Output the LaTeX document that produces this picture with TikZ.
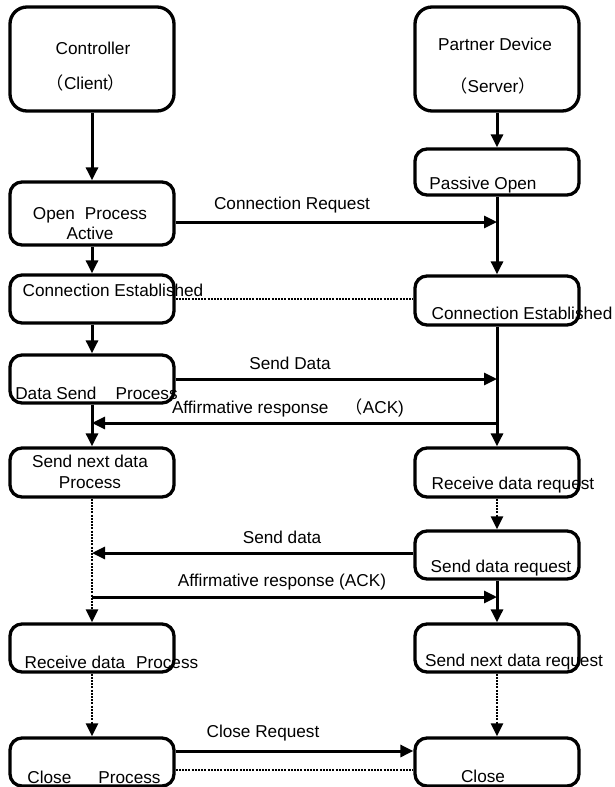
\documentclass[tikz,border=0pt]{standalone}
\usepackage{fontspec}
\setmainfont{Liberation Sans}
\newfontfamily\cjk{Noto Sans CJK JP}
\usepackage{tikz}
\usetikzlibrary{arrows.meta,calc}

\tikzset{
    stage/.style={draw, line width=3.3pt, rounded corners=12pt, inner sep=0pt, minimum width=164pt, minimum height=48pt},
    tag/.style={inner sep=0pt, font=\fontsize{17.2}{19}\selectfont},
    flow/.style={line width=3pt, -{Triangle[length=13pt,width=12pt]}},
    dots/.style={line width=2.8pt, dash pattern=on 2pt off 1.2pt},
}

\begin{document}
\begin{tikzpicture}[x=1pt,y=-1pt]
                \useasboundingbox (0,0) rectangle (614,787);
                \node[stage, rounded corners=17pt, minimum height=104pt] (ctrl) at (92,59) {};
                \node[stage, rounded corners=17pt, minimum height=104pt] (partner) at (497,59) {};
                \node[stage, minimum height=63pt] (open) at (92,213.5) {};
                \node[stage, minimum height=46pt] (passive) at (497,172) {};
                \node[stage] (ceL) at (92,299) {};
                \node[stage, minimum height=49pt] (ceR) at (497,300.5) {};
                \node[stage] (dsend) at (92,379) {};
                \node[stage, minimum height=49pt] (nextL) at (92,472.5) {};
                \node[stage, minimum height=49pt] (recvR) at (497,472.5) {};
                \node[stage] (sendreq) at (497,555) {};
                \node[stage] (recvL) at (92,648) {};
                \node[stage] (nextR) at (497,648) {};
                \node[stage] (closeL) at (92,762) {};
                \node[stage] (closeR) at (497,762) {};
                \node[tag] (ctrlA) at (93,48) {Controller};
                \node[tag] (ctrlB) at (86,83) {{\cjk （}Client{\cjk ）}};
                \node[tag] (partA) at (495,44) {Partner Device};
                \node[tag] (partB) at (493,86) {{\cjk （}Server{\cjk ）}};
                \node[tag] (openA) at (90,215) {Open\hspace{10pt}Process};
                \node[tag] (openB) at (90,233) {Active};
                \node[tag] (passT) at (483,185) {Passive Open};
                \node[tag] (ceLT) at (113,290) {Connection Established};
                \node[tag] (ceRT) at (522,313) {Connection Established};
                \node[tag] (dsendT) at (96.5,393) {Data Send\hspace{19pt}Process};
                \node[tag] (nextLA) at (90,461) {Send next data};
                \node[tag] (nextLB) at (90,483) {Process};
                \node[tag] (recvRT) at (513,485) {Receive data request};
                \node[tag] (sendreqT) at (501,568) {Send data request};
                \node[tag] (recvLT) at (111.5,662) {Receive data\hspace{11pt}Process};
                \node[tag] (nextRT) at (514,662) {Send next data request};
                \node[tag] (closeLT) at (94,777) {Close\hspace{27pt}Process};
                \node[tag] (closeRT) at (483,776) {Close};
                \node[tag] (reqL) at (292,205) {Connection Request};
                \node[tag] (sendL) at (290,363) {Send Data};
                \node[tag] (ackL) at (288,408) {Affirmative response{\cjk 　（}ACK)};
                \node[tag] (sendL2) at (282,537) {Send data};
                \node[tag] (ackL2) at (282,582) {Affirmative response (ACK)};
                \node[tag] (closeRq) at (263,733) {Close Request};
                \coordinate (reqEnd) at (497,222);
                \coordinate (dataEnd) at (497,379);
                \coordinate (ackR) at (497,423);
                \coordinate (ackLeft) at (92,423);
                \coordinate (backEnd) at (92,553);
                \coordinate (ack2L) at (92,597);
                \coordinate (ack2R) at (497,597);
                \coordinate (clsA) at (0,751);
                \coordinate (clsB) at (0,770);
                \draw[flow] (ctrl.south) -- (open.north);
                \draw[flow] (open.south) -- (ceL.north);
                \draw[flow] (ceL.south) -- (dsend.north);
                \draw[flow] (dsend.south) -- (nextL.north);
                \draw[flow, dots] (nextL.south) -- (recvL.north);
                \draw[flow, dots] (recvL.south) -- (closeL.north);
                \draw[flow] (partner.south) -- (passive.north);
                \draw[flow] (passive.south) -- (ceR.north);
                \draw[flow] (ceR.south) -- (recvR.north);
                \draw[flow, dots] (recvR.south) -- (sendreq.north);
                \draw[flow] (sendreq.south) -- (nextR.north);
                \draw[flow, dots] (nextR.south) -- (closeR.north);
                \draw[flow] (open.east |- reqEnd) -- (reqEnd);
                \draw[dots] (ceL.east) -- (ceL.east -| ceR.west);
                \draw[flow] (dsend.east) -- (dataEnd);
                \draw[flow] (ackR) -- (ackLeft);
                \draw[flow] (sendreq.west |- backEnd) -- (backEnd);
                \draw[flow] (ack2L) -- (ack2R);
                \draw[flow] (closeL.east |- clsA) -- (closeR.west |- clsA);
                \draw[dots] (closeL.east |- clsB) -- (closeR.west |- clsB);
            \end{tikzpicture}
\end{document}
